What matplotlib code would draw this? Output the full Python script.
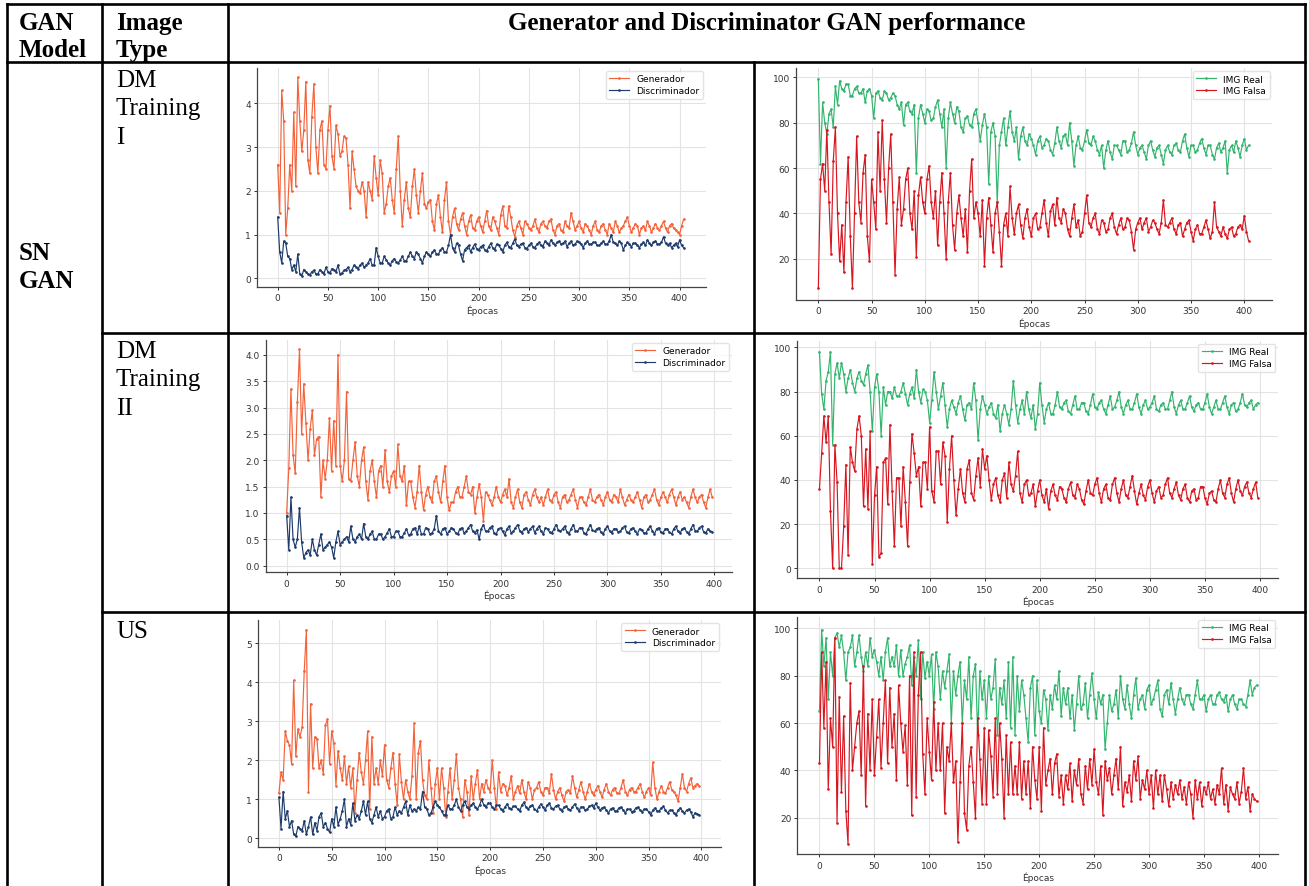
import numpy as np
import matplotlib
matplotlib.use("Agg")
import matplotlib.pyplot as plt
from matplotlib.lines import Line2D

# ---------------- data (values read every 2 epochs) ----------------
STEP = 2
epoch_ticks = [0, 50, 100, 150, 200, 250, 300, 350, 400]

# Row 1: DM Training I
gen_dm1 = [2.6, 1.5, 4.3, 3.6, 1.0, 1.6, 2.6, 2.0, 3.8, 2.1,
           4.6, 3.6, 2.9, 3.4, 4.5, 2.7, 2.4, 3.7, 4.45, 3.0,
           2.4, 3.4, 3.6, 2.6, 2.5, 3.4, 3.95, 2.8, 2.5, 3.5,
           3.3, 2.8, 2.9, 3.25, 3.2, 2.6, 1.6, 2.9, 2.5, 2.1,
           2.0, 1.95, 2.2, 2.0, 1.4, 2.2, 2.0, 1.8, 2.8, 2.3,
           1.9, 2.7, 2.4, 1.5, 1.7, 2.1, 2.3, 1.8, 1.5, 2.5,
           3.25, 2.0, 1.2, 1.8, 2.2, 1.6, 1.4, 2.1, 2.5, 1.9,
           1.5, 2.0, 2.4, 1.7, 1.6, 1.75, 1.8, 1.3, 1.1, 1.7,
           1.9, 1.4, 1.05, 1.8, 2.2, 1.3, 1.0, 1.4, 1.6, 1.25,
           1.1, 1.35, 1.5, 1.2, 1.0, 1.3, 1.45, 1.15, 1.1, 1.3,
           1.4, 1.2, 1.05, 1.3, 1.55, 1.2, 1.1, 1.4, 1.3, 1.15,
           1.0, 1.45, 1.65, 1.2, 1.15, 1.65, 1.4, 1.1, 0.95, 1.2,
           1.3, 1.15, 1.0, 1.3, 1.25, 1.15, 1.1, 1.2, 1.35, 1.15,
           1.05, 1.25, 1.3, 1.2, 1.15, 1.3, 1.35, 1.1, 1.0, 1.2,
           1.25, 1.1, 1.05, 1.3, 1.2, 1.15, 1.5, 1.3, 1.1, 1.2,
           1.3, 1.15, 1.05, 1.25, 1.2, 1.1, 1.0, 1.2, 1.3, 1.1,
           1.05, 1.2, 1.25, 1.1, 1.0, 1.25, 1.15, 1.05, 1.3, 1.2,
           1.05, 1.15, 1.2, 1.3, 1.4, 1.2, 1.05, 1.15, 1.25, 1.2,
           1.0, 1.15, 1.2, 1.1, 1.3, 1.2, 1.05, 1.15, 1.25, 1.15,
           1.1, 1.2, 1.3, 1.15, 1.05, 1.2, 1.25, 1.15, 1.1, 1.05,
           1.0, 1.2, 1.35]
disc_dm1 = [1.4, 0.6, 0.35, 0.85, 0.8, 0.5, 0.45, 0.2, 0.3, 0.15,
            0.55, 0.1, 0.05, 0.2, 0.15, 0.1, 0.08, 0.15, 0.18, 0.1,
            0.1, 0.2, 0.15, 0.1, 0.25, 0.15, 0.12, 0.22, 0.2, 0.15,
            0.3, 0.1, 0.12, 0.18, 0.2, 0.25, 0.15, 0.2, 0.3, 0.25,
            0.22, 0.3, 0.35, 0.25, 0.3, 0.35, 0.45, 0.3, 0.3, 0.7,
            0.5, 0.35, 0.35, 0.5, 0.42, 0.35, 0.3, 0.4, 0.45, 0.38,
            0.35, 0.42, 0.5, 0.4, 0.4, 0.5, 0.6, 0.5, 0.45, 0.6,
            0.55, 0.45, 0.35, 0.5, 0.6, 0.55, 0.5, 0.6, 0.65, 0.55,
            0.55, 0.65, 0.7, 0.6, 0.6, 0.75, 1.0, 0.7, 0.6, 0.8,
            0.75, 0.55, 0.4, 0.65, 0.7, 0.75, 0.6, 0.7, 0.78, 0.68,
            0.65, 0.72, 0.75, 0.65, 0.62, 0.72, 0.8, 0.7, 0.65, 0.78,
            0.75, 0.68, 0.6, 0.75, 0.82, 0.72, 0.7, 0.8, 0.9, 0.75,
            0.72, 0.78, 0.8, 0.7, 0.68, 0.75, 0.8, 0.72, 0.7, 0.78,
            0.82, 0.75, 0.72, 0.85, 0.8, 0.75, 0.88, 0.8, 0.75, 0.82,
            0.85, 0.78, 0.8, 0.85, 0.72, 0.8, 0.85, 0.75, 0.78, 0.85,
            0.82, 0.78, 0.7, 0.8, 0.85, 0.78, 0.78, 0.82, 0.82, 0.75,
            0.75, 0.8, 0.85, 0.78, 0.78, 0.85, 1.0, 0.82, 0.8, 0.75,
            0.85, 0.8, 0.65, 0.75, 0.82, 0.78, 0.72, 0.8, 0.8, 0.75,
            0.7, 0.78, 0.82, 0.75, 0.88, 0.8, 0.75, 0.82, 0.85, 0.78,
            0.78, 0.82, 0.95, 0.8, 0.75, 0.8, 0.7, 0.75, 0.8, 0.72,
            0.88, 0.75, 0.7]
real_dm1 = [99.5, 62, 89, 80, 75, 84, 86, 78, 96, 88,
            98.5, 95, 94, 97, 97, 92, 92, 95, 96, 93,
            93, 95, 89, 94, 95, 92, 82, 93, 94, 91,
            90, 94, 93, 90, 91, 93, 92, 88, 86, 89,
            79, 88, 89, 85, 84, 88, 58, 82, 88, 84,
            80, 86, 85, 81, 82, 87, 90, 84, 78, 86,
            60, 82, 89, 84, 80, 87, 85, 78, 76, 82,
            83, 79, 78, 84, 86, 80, 72, 79, 84, 78,
            53, 76, 80, 74, 45, 70, 76, 82, 70, 78,
            85, 76, 72, 78, 64, 74, 78, 72, 70, 75,
            73, 70, 66, 72, 74, 69, 70, 73, 72, 68,
            66, 71, 78, 72, 69, 74, 75, 70, 80, 72,
            61, 70, 74, 69, 68, 72, 77, 71, 70, 74,
            72, 68, 66, 70, 60, 68, 72, 67, 64, 70,
            70, 68, 66, 72, 72, 67, 68, 71, 76, 70,
            66, 69, 70, 67, 64, 70, 72, 68, 65, 69,
            70, 66, 62, 68, 70, 67, 66, 70, 71, 68,
            67, 72, 75, 69, 65, 70, 70, 67, 68, 71,
            73, 69, 66, 70, 70, 66, 64, 69, 71, 67,
            69, 72, 58, 68, 70, 67, 72, 69, 65, 70,
            73, 68, 70]
fake_dm1 = [7, 55, 62, 50, 77, 45, 22, 63, 78, 40,
            19, 35, 14, 45, 65, 30, 7, 40, 74, 45,
            36, 58, 66, 30, 19, 55, 45, 33, 76, 50,
            81, 55, 36, 60, 75, 45, 13, 42, 56, 35,
            42, 55, 60, 40, 33, 50, 21, 48, 56, 45,
            40, 55, 61, 45, 38, 50, 26, 45, 58, 40,
            20, 45, 58, 35, 24, 40, 48, 38, 30, 42,
            23, 50, 64, 38, 45, 40, 30, 46, 17, 38,
            47, 35, 23, 40, 45, 32, 17, 35, 40, 30,
            52, 38, 31, 40, 44, 35, 29, 38, 42, 34,
            30, 38, 40, 33, 34, 40, 46, 36, 30, 41,
            44, 35, 47, 38, 36, 42, 40, 33, 30, 38,
            44, 34, 37, 30, 32, 40, 48, 36, 34, 38,
            40, 33, 31, 37, 36, 32, 33, 38, 40, 34,
            31, 35, 38, 33, 34, 38, 37, 32, 24, 33,
            36, 38, 33, 36, 38, 32, 34, 37, 36, 33,
            31, 36, 46, 35, 34, 36, 38, 33, 31, 35,
            36, 30, 33, 36, 37, 32, 28, 33, 35, 31,
            31, 34, 37, 33, 29, 32, 45, 34, 32, 30,
            34, 31, 29, 33, 34, 30, 31, 34, 35, 33,
            39, 32, 28]

# Row 2: DM Training II
gen_dm2 = [1.0, 1.85, 3.35, 2.1, 1.75, 3.1, 4.1, 2.5, 3.45, 2.7,
           2.0, 2.6, 2.95, 2.1, 2.4, 2.45, 1.3, 2.0, 1.65, 2.0,
           2.8, 1.8, 2.75, 1.9, 4.0, 1.9, 1.6, 2.0, 3.3, 1.65,
           1.6, 2.0, 2.35, 1.7, 1.5, 2.0, 2.25, 1.6, 1.25, 1.8,
           2.0, 1.6, 1.3, 1.8, 1.9, 1.5, 2.2, 1.6, 1.4, 1.7,
           1.8, 1.5, 2.3, 1.7, 1.6, 1.9, 1.15, 1.6, 1.6, 1.3,
           1.1, 1.4, 1.9, 1.4, 1.05, 1.35, 1.5, 1.3, 1.2, 1.6,
           1.7, 1.4, 1.2, 1.6, 1.9, 1.3, 1.05, 1.2, 1.2, 1.4,
           1.5, 1.3, 1.3, 1.5, 1.7, 1.4, 1.35, 1.5, 1.0, 1.3,
           1.55, 1.3, 0.85, 1.4, 1.35, 1.25, 1.15, 1.3, 1.5, 1.3,
           1.2, 1.35, 1.45, 1.3, 1.65, 1.2, 1.1, 1.3, 1.45, 1.2,
           1.1, 1.35, 1.4, 1.25, 1.15, 1.35, 1.45, 1.3, 1.2, 1.3,
           1.15, 1.3, 1.45, 1.25, 1.2, 1.35, 1.4, 1.2, 1.1, 1.3,
           1.35, 1.2, 1.25, 1.35, 1.45, 1.25, 1.1, 1.3, 1.3, 1.2,
           1.15, 1.3, 1.45, 1.25, 1.2, 1.3, 1.35, 1.25, 1.15, 1.3,
           1.4, 1.25, 1.2, 1.35, 1.3, 1.2, 1.45, 1.3, 1.15, 1.25,
           1.35, 1.25, 1.2, 1.3, 1.4, 1.25, 1.1, 1.3, 1.35, 1.2,
           1.25, 1.35, 1.45, 1.25, 1.15, 1.3, 1.4, 1.3, 1.2, 1.35,
           1.45, 1.3, 1.15, 1.3, 1.4, 1.25, 1.3, 1.2, 1.1, 1.3,
           1.45, 1.3, 1.2, 1.3, 1.35, 1.2, 1.1, 1.3, 1.45, 1.3]
disc_dm2 = [0.95, 0.3, 1.3, 0.5, 0.35, 0.5, 1.1, 0.45, 0.15, 0.25,
            0.3, 0.2, 0.5, 0.3, 0.2, 0.4, 0.6, 0.3, 0.35, 0.4,
            0.45, 0.35, 0.15, 0.45, 0.65, 0.4, 0.45, 0.5, 0.55, 0.45,
            0.75, 0.5, 0.45, 0.55, 0.6, 0.5, 0.8, 0.55, 0.5, 0.6,
            0.65, 0.5, 0.5, 0.6, 0.6, 0.5, 0.55, 0.62, 0.7, 0.55,
            0.55, 0.65, 0.65, 0.55, 0.55, 0.62, 0.7, 0.58, 0.6, 0.7,
            0.72, 0.6, 0.75, 0.6, 0.6, 0.72, 0.7, 0.6, 0.62, 0.7,
            0.95, 0.65, 0.6, 0.7, 0.72, 0.6, 0.65, 0.72, 0.7, 0.62,
            0.6, 0.7, 0.72, 0.62, 0.65, 0.72, 0.78, 0.65, 0.62, 0.68,
            0.5, 0.7, 0.78, 0.65, 0.65, 0.72, 0.75, 0.62, 0.6, 0.7,
            0.72, 0.65, 0.58, 0.7, 0.75, 0.62, 0.65, 0.72, 0.78, 0.66,
            0.62, 0.7, 0.72, 0.64, 0.7, 0.75, 0.62, 0.7, 0.75, 0.65,
            0.6, 0.72, 0.7, 0.63, 0.62, 0.7, 0.78, 0.68, 0.65, 0.7,
            0.75, 0.64, 0.6, 0.7, 0.78, 0.66, 0.65, 0.72, 0.72, 0.62,
            0.6, 0.7, 0.78, 0.67, 0.65, 0.7, 0.72, 0.63, 0.6, 0.7,
            0.75, 0.66, 0.62, 0.7, 0.7, 0.64, 0.65, 0.72, 0.75, 0.63,
            0.62, 0.7, 0.72, 0.65, 0.6, 0.7, 0.68, 0.62, 0.62, 0.7,
            0.75, 0.66, 0.6, 0.7, 0.72, 0.63, 0.62, 0.7, 0.7, 0.63,
            0.6, 0.7, 0.75, 0.65, 0.62, 0.7, 0.72, 0.64, 0.6, 0.7,
            0.78, 0.66, 0.65, 0.72, 0.75, 0.64, 0.62, 0.7, 0.65, 0.64]
real_dm2 = [98, 79, 72, 85, 89, 98, 56, 88, 93, 86,
            93, 88, 80, 86, 90, 84, 80, 86, 89, 85,
            83, 88, 92, 80, 62, 82, 88, 80, 60, 82,
            74, 80, 80, 77, 82, 78, 78, 80, 84, 79,
            74, 79, 82, 77, 90, 80, 75, 81, 80, 76,
            66, 76, 89, 80, 72, 78, 84, 74, 64, 72,
            76, 73, 70, 75, 78, 72, 67, 74, 75, 72,
            84, 76, 58, 72, 78, 74, 70, 73, 75, 70,
            68, 74, 62, 70, 74, 70, 65, 72, 85, 74,
            66, 72, 76, 70, 80, 72, 68, 74, 63, 70,
            84, 74, 66, 72, 75, 70, 70, 74, 80, 73,
            72, 75, 76, 71, 70, 74, 78, 72, 72, 75,
            75, 71, 70, 74, 79, 73, 72, 75, 76, 72,
            70, 74, 78, 72, 73, 76, 80, 73, 70, 74,
            76, 72, 72, 75, 79, 73, 70, 74, 76, 72,
            73, 75, 78, 72, 71, 74, 75, 72, 72, 76,
            80, 73, 70, 74, 76, 72, 72, 75, 78, 73,
            71, 74, 75, 72, 72, 75, 79, 73, 70, 73,
            76, 72, 72, 75, 78, 73, 70, 74, 75, 71,
            72, 75, 79, 74, 73, 75, 76, 72, 74, 75]
fake_dm2 = [36, 52, 69, 57, 69, 26, 0, 56, 39, 0,
            0, 19, 47, 6, 55, 48, 44, 63, 69, 60,
            28, 54, 27, 62, 2, 33, 46, 5, 7, 48,
            50, 29, 65, 35, 10, 41, 41, 19, 46, 30,
            10, 39, 61, 52, 42, 46, 28, 48, 48, 36,
            64, 35, 30, 53, 53, 38, 57, 51, 21, 45,
            60, 40, 24, 36, 45, 34, 30, 45, 49, 34,
            31, 42, 50, 37, 54, 45, 51, 40, 31, 38,
            41, 33, 30, 40, 43, 32, 48, 38, 35, 42,
            53, 34, 30, 38, 40, 33, 34, 38, 28, 35,
            40, 33, 30, 36, 27, 35, 38, 33, 31, 37,
            36, 32, 30, 36, 39, 33, 32, 38, 36, 31,
            29, 35, 40, 34, 33, 38, 41, 34, 30, 36,
            38, 32, 31, 38, 41, 34, 30, 36, 40, 33,
            32, 37, 42, 35, 29, 34, 38, 33, 31, 37,
            40, 34, 30, 35, 37, 32, 33, 38, 41, 34,
            32, 36, 39, 33, 31, 36, 38, 32, 30, 35,
            36, 31, 32, 37, 37, 32, 29, 34, 35, 31,
            30, 36, 40, 34, 32, 38, 41, 34, 30, 36,
            40, 35, 33, 37, 39, 34, 32, 36, 39, 32]

# Row 3: US
gen_us = [1.15, 1.7, 1.5, 2.75, 2.5, 2.4, 1.9, 4.05, 2.1, 2.8,
          2.6, 2.85, 4.3, 5.35, 1.2, 3.45, 1.8, 2.6, 2.55, 1.8,
          2.0, 1.65, 2.9, 3.05, 1.9, 2.75, 2.45, 1.35, 2.25, 1.8,
          1.5, 2.1, 1.4, 1.85, 1.3, 1.8, 0.65, 1.5, 2.2, 1.7,
          1.4, 2.0, 2.75, 0.75, 2.6, 1.4, 1.8, 1.4, 2.0, 1.6,
          2.4, 1.5, 1.3, 1.8, 2.2, 1.4, 0.85, 2.15, 1.45, 1.0,
          1.5, 1.2, 1.0, 1.6, 2.95, 1.0, 2.2, 2.5, 1.5, 1.1,
          1.0, 2.0, 1.3, 0.65, 1.4, 1.8, 1.0, 1.8, 1.3, 0.55,
          1.2, 1.8, 1.0, 1.5, 2.15, 1.3, 1.0, 0.55, 1.5, 1.2,
          0.6, 1.6, 1.0, 1.4, 1.75, 1.0, 1.4, 1.2, 1.5, 1.3,
          1.2, 2.0, 1.3, 0.75, 1.7, 1.2, 1.4, 1.35, 1.1, 1.3,
          1.6, 1.0, 1.2, 1.35, 1.15, 1.5, 1.2, 1.0, 1.45, 1.3,
          1.0, 1.25, 1.3, 1.45, 1.2, 1.1, 1.3, 1.3, 1.15, 1.65,
          1.25, 1.0, 1.2, 1.3, 1.1, 0.95, 1.2, 1.25, 1.15, 1.6,
          1.3, 1.05, 1.25, 1.45, 1.2, 1.0, 1.2, 1.4, 1.2, 1.1,
          1.25, 1.35, 1.2, 1.05, 1.25, 1.4, 1.2, 1.1, 1.25, 1.3,
          1.15, 1.15, 1.3, 1.5, 1.2, 1.1, 1.25, 1.3, 1.2, 1.2,
          1.3, 1.4, 1.2, 1.05, 1.2, 1.3, 1.1, 1.95, 1.3, 1.0,
          1.2, 1.35, 1.2, 1.15, 1.3, 1.45, 1.25, 1.2, 1.1, 0.95,
          1.3, 1.65, 1.3, 1.2, 1.4, 1.55, 1.3, 1.35, 1.4, 1.35]
disc_us = [1.05, 0.25, 1.2, 0.5, 0.7, 0.3, 0.45, 0.1, 0.05, 0.3,
           0.25, 0.2, 0.45, 0.1, 0.3, 0.55, 0.1, 0.4, 0.2, 0.55,
           0.65, 0.3, 0.4, 0.25, 0.15, 0.5, 0.3, 0.8, 0.35, 0.5,
           0.7, 1.0, 0.3, 0.5, 0.35, 0.9, 0.45, 0.6, 0.5, 0.7,
           0.95, 0.6, 0.95, 0.5, 0.4, 0.6, 0.8, 0.55, 0.7, 0.5,
           0.55, 0.7, 0.75, 0.5, 0.55, 0.8, 0.6, 0.7, 0.65, 0.8,
           0.95, 0.6, 0.85, 0.7, 0.75, 0.7, 0.8, 0.75, 1.2, 0.8,
           0.75, 0.6, 0.65, 0.8, 0.95, 0.85, 0.8, 0.7, 0.6, 0.6,
           0.85, 0.75, 0.75, 0.85, 1.0, 0.8, 0.7, 0.85, 0.95, 0.8,
           0.75, 0.85, 0.9, 0.8, 0.75, 0.85, 1.0, 0.85, 0.8, 0.9,
           0.9, 0.8, 0.75, 0.85, 0.85, 0.75, 0.7, 0.8, 0.88, 0.78,
           0.75, 0.82, 0.82, 0.75, 0.7, 0.85, 0.92, 0.8, 0.75, 0.82,
           0.85, 0.75, 0.7, 0.8, 0.88, 0.8, 0.72, 0.85, 0.9, 0.78,
           0.75, 0.82, 0.85, 0.75, 0.7, 0.8, 0.82, 0.75, 0.72, 0.8,
           0.88, 0.78, 0.7, 0.8, 0.8, 0.72, 0.75, 0.82, 0.85, 0.78,
           0.9, 0.8, 0.72, 0.78, 0.8, 0.72, 0.65, 0.75, 0.78, 0.7,
           0.7, 0.78, 0.8, 0.72, 0.65, 0.75, 0.75, 0.68, 0.7, 0.78,
           0.8, 0.72, 0.68, 0.75, 0.75, 0.68, 0.6, 0.72, 0.78, 0.7,
           0.7, 0.78, 0.82, 0.72, 0.65, 0.72, 0.72, 0.65, 0.6, 0.72,
           0.78, 0.7, 0.65, 0.72, 0.75, 0.68, 0.55, 0.65, 0.62, 0.6]
real_us = [65, 99.5, 84, 96, 70, 90, 80, 96, 98, 92,
           97, 90, 78, 90, 92, 97, 84, 90, 97, 88,
           82, 90, 84, 96, 88, 91, 86, 80, 88, 78,
           90, 96, 84, 88, 84, 93, 80, 91, 80, 85,
           88, 93, 76, 88, 80, 95, 70, 90, 79, 86,
           80, 89, 66, 90, 84, 70, 82, 75, 82, 89,
           60, 82, 72, 80, 86, 60, 78, 70, 88, 62,
           80, 85, 55, 82, 70, 78, 62, 80, 70, 75,
           87, 55, 75, 68, 78, 62, 86, 58, 88, 55,
           80, 65, 78, 72, 62, 52, 75, 80, 55, 78,
           65, 60, 74, 70, 57, 72, 66, 76, 70, 82,
           63, 75, 68, 75, 62, 72, 57, 68, 80, 66,
           68, 77, 62, 72, 81, 70, 62, 73, 68, 72,
           49, 60, 72, 65, 68, 74, 62, 80, 70, 66,
           76, 68, 62, 72, 79, 66, 70, 72, 66, 74,
           76, 68, 70, 74, 78, 66, 63, 72, 74, 68,
           77, 70, 64, 70, 75, 70, 68, 72, 72, 68,
           66, 72, 78, 70, 70, 72, 65, 70, 72, 68,
           68, 72, 73, 70, 69, 72, 65, 70, 72, 68,
           66, 70, 70, 68, 67, 72, 78, 72, 75, 76]
fake_us = [43, 90, 58, 86, 32, 62, 50, 96, 18, 71,
           31, 63, 23, 9, 77, 40, 50, 60, 65, 38,
           84, 25, 64, 40, 70, 38, 54, 70, 41, 60,
           78, 43, 75, 50, 64, 36, 76, 60, 48, 59,
           34, 80, 21, 90, 29, 72, 90, 47, 30, 62,
           48, 36, 69, 40, 60, 40, 60, 22, 50, 44,
           60, 35, 44, 10, 35, 60, 22, 15, 42, 50,
           35, 20, 62, 45, 26, 58, 26, 57, 46, 29,
           62, 30, 60, 45, 20, 55, 30, 52, 30, 42,
           30, 52, 28, 44, 30, 44, 24, 50, 36, 28,
           50, 23, 58, 34, 40, 45, 30, 43, 47, 29,
           38, 26, 38, 32, 43, 27, 40, 34, 45, 30,
           26, 42, 32, 45, 34, 49, 35, 30, 42, 21,
           44, 36, 41, 30, 38, 45, 32, 50, 25, 35,
           31, 38, 27, 44, 36, 46, 28, 36, 32, 40,
           30, 38, 24, 40, 30, 38, 27, 38, 32, 25,
           35, 28, 34, 30, 36, 28, 33, 26, 35, 30,
           20, 36, 28, 35, 25, 33, 30, 35, 28, 32,
           26, 34, 30, 41, 26, 34, 23, 33, 30, 28,
           35, 26, 31, 41, 28, 33, 23, 30, 28, 27]

row_labels = [["DM", "Training", "I"], ["DM", "Training", "II"], ["US"]]
loss_series = [(gen_dm1, disc_dm1), (gen_dm2, disc_dm2), (gen_us, disc_us)]
acc_series = [(real_dm1, fake_dm1), (real_dm2, fake_dm2), (real_us, fake_us)]
loss_yticks = [[0, 1, 2, 3, 4],
               [0.0, 0.5, 1.0, 1.5, 2.0, 2.5, 3.0, 3.5, 4.0],
               [0, 1, 2, 3, 4, 5]]
loss_ytick_labels = [["0", "1", "2", "3", "4"],
                     ["0.0", "0.5", "1.0", "1.5", "2.0", "2.5", "3.0", "3.5", "4.0"],
                     ["0", "1", "2", "3", "4", "5"]]
acc_yticks = [[20, 40, 60, 80, 100], [0, 20, 40, 60, 80, 100], [20, 40, 60, 80, 100]]

# ---------------- layout (pixel geometry) ----------------
W, H = 1309, 887
fig = plt.figure(figsize=(W / 100, H / 100), dpi=100)
fig.patch.set_facecolor("white")

def fx(x):
    return x / W

def fy(y):
    return 1 - y / H

def rect(x0, y0, x1, y1):
    return [fx(x0), fy(y1), (x1 - x0) / W, (y1 - y0) / H]

loss_boxes = [(257.3, 69, 706, 288), (265.7, 341, 732, 573.3), (258, 621.3, 721.3, 847.7)]
loss_xlims = [(-20.3, 426.3), (-19.6, 416.5), (-19.8, 418.9)]
loss_ylims = [(-0.2, 4.81), (-0.125, 4.28), (-0.215, 5.59)]
acc_boxes = [(796.4, 69.3, 1272.4, 300.7), (797.2, 342, 1278.2, 579.3), (797.5, 618, 1278.2, 855.3)]
acc_xlims = [(-20.6, 426.4), (-20.2, 416.5), (-20.0, 417.6)]
acc_ylims = [(2, 104), (-4.5, 102.9), (4.6, 104.8)]

C_GEN = "#f4623a"
C_DISC = "#1d3b6b"
C_REAL = "#33b56e"
C_FAKE = "#d8161f"
TFS = 6.5
LWD = 0.85
MS = 1.8

def style_ax(ax, xlim, ylim, yticks, ylabels=None):
    ax.set_xlim(*xlim)
    ax.set_ylim(*ylim)
    ax.set_xticks(epoch_ticks)
    ax.set_yticks(yticks)
    if ylabels is not None:
        ax.set_yticklabels(ylabels)
    ax.grid(True, color="#e3e3e3", linewidth=0.8)
    ax.set_axisbelow(True)
    for s in ["top", "right"]:
        ax.spines[s].set_visible(False)
    for s in ["left", "bottom"]:
        ax.spines[s].set_color("#444444")
        ax.spines[s].set_linewidth(0.9)
    ax.tick_params(labelsize=TFS, colors="#333333", length=2.5, width=0.7, pad=2)
    ax.set_xlabel("Épocas", fontsize=TFS, color="#333333", labelpad=1.5)

def add_legend(ax):
    ax.legend(loc="upper right", fontsize=TFS, frameon=True, handlelength=2.2,
              borderaxespad=0.3, labelspacing=0.3, edgecolor="#dddddd", fancybox=True)

for i in range(3):
    g, d = loss_series[i]
    ax = fig.add_axes(rect(*loss_boxes[i]))
    ax.plot(np.arange(len(g)) * STEP, g, color=C_GEN, lw=LWD, marker=".", ms=MS, label="Generador")
    ax.plot(np.arange(len(d)) * STEP, d, color=C_DISC, lw=LWD, marker=".", ms=MS, label="Discriminador")
    style_ax(ax, loss_xlims[i], loss_ylims[i], loss_yticks[i], loss_ytick_labels[i])
    add_legend(ax)

    r, f = acc_series[i]
    ax2 = fig.add_axes(rect(*acc_boxes[i]))
    ax2.plot(np.arange(len(r)) * STEP, r, color=C_REAL, lw=LWD, marker=".", ms=MS, label="IMG Real")
    ax2.plot(np.arange(len(f)) * STEP, f, color=C_FAKE, lw=LWD, marker=".", ms=MS, label="IMG Falsa")
    style_ax(ax2, acc_xlims[i], acc_ylims[i], acc_yticks[i])
    add_legend(ax2)

# ---------------- table lines ----------------
LW = 1.9
def hline(y, x0, x1):
    fig.add_artist(Line2D([fx(x0), fx(x1)], [fy(y), fy(y)], color="black", lw=LW, solid_capstyle="projecting"))

def vline(x, y0, y1):
    fig.add_artist(Line2D([fx(x), fx(x)], [fy(y0), fy(y1)], color="black", lw=LW, solid_capstyle="projecting"))

hline(5, 7, 1305)
hline(63, 7, 1305)
hline(334, 102, 1305)
hline(613, 102, 1305)
vline(7, 5, 890)
vline(102, 5, 890)
vline(228, 5, 890)
vline(1305, 5, 890)
vline(754, 63, 890)

# ---------------- table text ----------------
SERIF = ["Liberation Serif", "DejaVu Serif"]
FS = 18
def t(x, y, s, bold=False, ha="left"):
    fig.text(fx(x), fy(y), s, fontsize=FS, family=SERIF, ha=ha, va="baseline",
             fontweight="bold" if bold else "normal", color="black")

t(19, 30, "GAN", True)
t(19, 57, "Model", True)
t(116, 30, "Image", True)
t(116, 57, "Type", True)
t(767, 30, "Generator and Discriminator GAN performance", True, ha="center")
t(19, 260, "SN", True)
t(19, 288, "GAN", True)

row_base = [87, 358, 638]
for lines, b in zip(row_labels, row_base):
    for k, s in enumerate(lines):
        t(116, b + k * 28.5, s)

fig.savefig("out.png", dpi=100, facecolor="white")
